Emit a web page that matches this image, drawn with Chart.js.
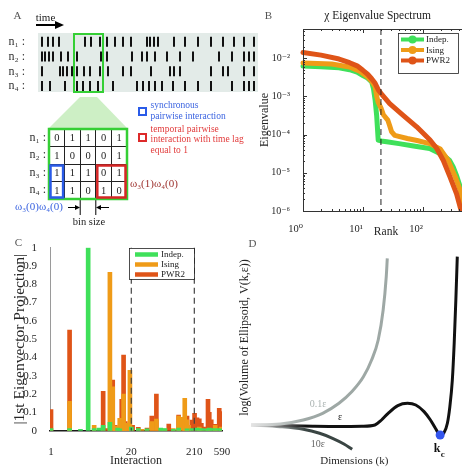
<!DOCTYPE html>
<html>
<head>
<meta charset="utf-8">
<script src="https://cdn.jsdelivr.net/npm/chart.js@4.4.1/dist/chart.umd.min.js"></script>
<style>
  html, body { margin: 0; padding: 0; background: #fff; overflow: hidden; }
  #page { position: relative; width: 462px; height: 468px; overflow: hidden;
          font-family: "Liberation Serif", "DejaVu Serif", serif; color: #222; }
  canvas, svg { position: absolute; left: 0; top: 0; }
  .c { position: absolute; transform: translate(-50%, -50%); line-height: 1; white-space: nowrap; }
  .l { position: absolute; transform: translate(0, -50%); line-height: 1; white-space: nowrap; }
  .letter { font-size: 11px; color: #555; }
</style>
</head>
<body>
<div id="page">
  <svg width="462" height="468">
    <line x1="36" y1="25" x2="57" y2="25" stroke="#000" stroke-width="2"/>
    <polygon points="55,21 64,25 55,29" fill="#000"/>
    <polygon points="80,97 97,97 127,128 49,128" fill="#cdefc5"/>
    <rect x="139" y="108" width="7" height="7" fill="none" stroke="#2a5be8" stroke-width="2"/>
    <rect x="139" y="134" width="7" height="7" fill="none" stroke="#dd2a2a" stroke-width="2"/>
    <line x1="80.2" y1="200" x2="80.2" y2="215" stroke="#000"/>
    <line x1="95.8" y1="200" x2="95.8" y2="215" stroke="#000"/>
    <line x1="68" y1="207.5" x2="76" y2="207.5" stroke="#000"/>
    <polygon points="75,205 80,207.5 75,210" fill="#000"/>
    <line x1="100" y1="207.5" x2="109" y2="207.5" stroke="#000"/>
    <polygon points="101,205 96,207.5 101,210" fill="#000"/>
  </svg>
  <canvas id="raster" width="462" height="468"></canvas>
  <canvas id="bins" width="462" height="468"></canvas>
  <canvas id="spectrum" width="480" height="468"></canvas>
  <canvas id="projection" width="462" height="468"></canvas>
  <canvas id="volume" width="462" height="468"></canvas>

  <div class="c letter" style="left:17.5px;top:14.5px">A</div>
  <div class="c letter" style="left:268.5px;top:14.5px">B</div>
  <div class="c letter" style="left:18.5px;top:242px">C</div>
  <div class="c letter" style="left:252.5px;top:242.5px">D</div>
  <div class="c" style="left:45.5px;top:17px;font-size:11px">time</div>
  <div class="c" style="left:377.7px;top:16px;font-size:11.5px">χ Eigenvalue Spectrum</div>
  <div class="l" style="left:150.5px;top:105.5px;font-size:9.5px;color:#3a63e0">synchronous</div>
  <div class="l" style="left:150.5px;top:116.7px;font-size:9.5px;color:#3a63e0">pairwise interaction</div>
  <div class="l" style="left:150.5px;top:129.5px;font-size:9.5px;color:#e23b3b">temporal pairwise</div>
  <div class="l" style="left:150.5px;top:140px;font-size:9.5px;color:#e23b3b">interaction with time lag</div>
  <div class="l" style="left:150.5px;top:150.5px;font-size:9.5px;color:#e23b3b">equal to 1</div>
  <div class="l" style="left:130px;top:183px;font-size:11px;color:#9c2f2b">ω₃(1)ω₄(0)</div>
  <div class="l" style="left:15px;top:206px;font-size:11px;color:#3a63e0">ω₃(0)ω₄(0)</div>
  <div class="c" style="left:89px;top:222px;font-size:10.5px">bin size</div>
</div>

<script>
const SERIF = '"Liberation Serif", "DejaVu Serif", serif';
const GREEN = '#3fe05a', ORANGE = '#ef9b18', RED = '#df5418';

Chart.defaults.font.family = SERIF;
Chart.defaults.font.size = 11;
Chart.defaults.color = '#262626';
Chart.defaults.animation = false;
Chart.defaults.responsive = false;
Chart.defaults.devicePixelRatio = 1;
Chart.defaults.events = [];
Chart.defaults.plugins.legend.display = false;
Chart.defaults.plugins.tooltip.enabled = false;

// ---- panel A data ----
const neuronLabels = ['n₁ :', 'n₂ :', 'n₃ :', 'n₄ :'];
const spikeTimes = [
  [4, 10, 15, 21, 47, 53, 62, 69, 77, 85, 93, 109, 112, 116, 120, 136, 147, 160, 173, 185, 196, 206, 216],
  [4, 7, 11, 15, 23, 30, 39, 63, 69, 94, 104, 109, 117, 129, 142, 155, 181, 194, 206, 211, 216],
  [4, 22, 25, 29, 34, 39, 46, 52, 62, 70, 85, 93, 113, 132, 136, 142, 173, 185, 190, 206, 216],
  [4, 12, 27, 39, 45, 52, 60, 75, 99, 105, 111, 117, 124, 135, 147, 160, 173, 194, 206, 211, 216]
];
const windowStart = 36, windowEnd = 65;
const binLabels = ['1', '2', '3', '4', '5'];
const binCounts = [
  [0, 1, 1, 0, 1],
  [1, 0, 0, 0, 1],
  [1, 1, 1, 0, 1],
  [1, 1, 0, 1, 0]
];

// ---- panel B data ----
const indepRank = [1, 2, 4, 6, 8, 10, 12, 14, 15, 16, 17, 18, 20, 25, 40, 70, 130, 220, 280, 320, 370, 420, 470, 530, 590];
const indepEig = [6.2e-3, 6.0e-3, 5.6e-3, 5.0e-3, 4.3e-3, 3.5e-3, 3.0e-3, 2.4e-3, 1.6e-3, 8e-4, 3e-4, 7.2e-5, 6.8e-5,
  6.5e-5, 5.8e-5, 5.0e-5, 4.3e-5, 2.9e-5, 2.1e-5, 1.45e-5, 8e-6, 4.3e-6, 2e-6, 1e-6, 6e-7];
const isingRank = [1, 3, 6, 9, 12, 14, 16, 17, 18, 20, 22, 26, 28, 30, 34, 55, 80, 130, 195, 265, 345, 420, 480, 590];
const isingEig = [7.5e-3, 7.0e-3, 5.9e-3, 4.5e-3, 3.2e-3, 2.5e-3, 1.8e-3, 1.0e-3, 7e-4, 5e-4, 3.3e-4, 2.4e-4, 1.7e-4,
  1.2e-4, 9.5e-5, 7.9e-5, 7e-5, 5.8e-5, 4.2e-5, 2.1e-5, 8e-6, 3.5e-6, 1.3e-6, 5e-7];
const pwrRank = [1, 2, 4, 6, 8, 10, 12, 14, 16, 18, 20, 28, 47, 79, 132, 170, 220, 284, 366, 418, 450, 590];
const pwrEig = [1.4e-2, 1.2e-2, 9.5e-3, 7.6e-3, 6.3e-3, 4.8e-3, 3.8e-3, 2.9e-3, 2.2e-3, 1.5e-3, 1.2e-3, 6.5e-4, 3.2e-4,
  1.6e-4, 7.2e-5, 4.4e-5, 2.1e-5, 7.8e-6, 2.8e-6, 1.3e-6, 9e-7, 2e-7];
const rankMajorTicks = [1, 10, 100];
const eigMajorTicks = [1e-6, 1e-5, 1e-4, 1e-3, 1e-2];
const dashedRanks = [20];

// ---- panel C data ----
const interactionIds = [1, 2, 3, 4, 5, 6, 7, 8, 9, 10, 11, 12, 13, 14, 15, 16, 17, 19, 20, 21, 26, 30, 36, 43, 51, 60, 70,
  81, 96, 117, 133, 147, 160, 170, 193, 212, 232, 253, 273, 297, 320, 350, 367, 395, 420, 458, 500, 532, 573];
const indepProj = [.012, .012, .008, 1.0, .012, .015, .03, 0, .046, 0, 0, .015, .01, 0, 0, 0, 0, 0, .02, 0, .012, 0, .01,
  0, 0, .015, .012, 0, .008, .015, 0, 0, .01, 0, .012, 0, .015, 0, .012, 0, .01, 0, .015, 0, .012, 0, .012, 0, .01];
const isingProj = [0, .16, 0, 0, .03, 0, 0, 0, .865, .24, .025, .02, .067, .06, .2, .035, .04, .33, 0, 0, 0, .008, 0,
  .05, .064, .01, .01, 0, .012, .08, .073, .177, .06, .03, 0, 0, 0, .02, 0, 0, 0, .01, 0, 0, 0, .03, 0, 0, .02];
const pwrProj = [.115, .55, 0, 0, 0, 0, .215, .012, 0, .277, .03, 0, 0, .172, .413, .05, .03, .02, .01, .03, .018, 0, .015,
  .08, .2, 0, 0, .036, 0, .085, 0, .05, .08, 0, .058, .095, .07, .065, .04, .02, 0, .172, .1, .06, 0, .035, .03, .122, .105];
const interactionTicks = [1, 20, 210, 590];
const projectionTicks = [0, 0.1, 0.2, 0.3, 0.4, 0.5, 0.6, 0.7, 0.8, 0.9, 1];
const sectionBounds = [20, 210];

// ---- panel D data ----
const kSmallEps = [0, 14.2, 25.3, 34.7, 42.6, 48.9, 54.5, 58.4, 61.6, 64, 65.5, 66];
const vSmallEps = [0, 0.1, 0.5, 1.17, 2.17, 3.34, 4.84, 6.5, 8.5, 11.5, 14.84, 16.67];
const kEps = [0, 14.2, 30, 42.7, 53.7, 60, 63.2, 66.4, 71.1, 75.8, 79.8, 83.8, 86.9, 89.3, 91.6, 93.5, 95.1, 96.3, 97.5, 98.4, 99.2, 99.9];
const vEps = [0, -0.06, -0.13, -0.16, -0.13, 0, 0.5, 1.17, 1.94, 2.17, 2.0, 1.34, 0.5, -0.33, -1.0, -0.76, 0.17, 1.84, 4.5, 8.17, 12.5, 16.84];
const kLargeEps = [0, 14.2, 25.3, 33.2, 39.5, 45, 49];
const vLargeEps = [0, -0.17, -0.43, -0.83, -1.33, -1.9, -2.43];
const kCritical = [91.6];
const vCritical = [-1.0];

const pts = (xs, ys) => xs.map((x, i) => ({x, y: ys[i]}));
const sup = {'-': '⁻', '0': '⁰', '1': '¹', '2': '²', '3': '³', '4': '⁴', '5': '⁵', '6': '⁶'};
const pow10Label = v => '10' + String(Math.round(Math.log10(v))).split('').map(ch => sup[ch]).join('');
function logTicks(majors, lo, hi) {
  const out = [];
  majors.forEach(m => {
    for (let k = 1; k <= 9; k++) {
      const v = m * k;
      if (v >= lo * 0.999 && v <= hi * 1.001) out.push({value: v, major: k === 1});
    }
  });
  return out;
}

// ---------------- A: raster ----------------
const rasterDecor = {
  id: 'rasterDecor',
  beforeDatasetsDraw(chart) {
    const {ctx, chartArea: a} = chart;
    ctx.save();
    ctx.fillStyle = '#e3ebe8';
    ctx.fillRect(a.left, a.top, a.right - a.left, a.bottom - a.top);
    ctx.restore();
  },
  afterDatasetsDraw(chart) {
    const {ctx, chartArea: a, scales: {x}} = chart;
    const x0 = x.getPixelForValue(windowStart), x1 = x.getPixelForValue(windowEnd);
    ctx.save();
    ctx.strokeStyle = '#35cf35';
    ctx.lineWidth = 2;
    ctx.strokeRect(x0, a.top + 1, x1 - x0, a.bottom - a.top - 1);
    ctx.restore();
  }
};

new Chart('raster', {
  type: 'scatter',
  data: {
    datasets: spikeTimes.map((times, i) => ({
      data: times.map(t => ({x: t, y: i + 1})),
      pointStyle: 'line',
      pointRotation: 90,
      pointRadius: 5,
      pointBorderWidth: 2,
      pointBorderColor: '#111',
      pointBackgroundColor: '#111'
    }))
  },
  options: {
    layout: {padding: {left: 6, top: 33, right: 204, bottom: 376}},
    scales: {
      x: {display: false, min: 0, max: 220},
      y: {
        reverse: true, min: 0.4, max: 4.4,
        afterBuildTicks: s => { s.ticks = neuronLabels.map((_, i) => ({value: i + 1})); },
        afterFit: s => { s.width = 32; },
        grid: {display: false}, border: {display: false},
        ticks: {padding: 5, color: '#333', font: {size: 12}, callback: v => neuronLabels[v - 1]}
      }
    }
  },
  plugins: [rasterDecor]
});

// ---------------- A: bins ----------------
const binDecor = {
  id: 'binDecor',
  afterDatasetsDraw(chart) {
    const {ctx, chartArea: a, scales: {x, y}} = chart;
    const meta = chart.getDatasetMeta(0);
    const ds = chart.data.datasets[0];
    ctx.save();
    ctx.fillStyle = '#222';
    ctx.font = '10.5px ' + SERIF;
    ctx.textAlign = 'center';
    ctx.textBaseline = 'middle';
    meta.data.forEach((pt, i) => ctx.fillText(String(ds.data[i].v), pt.x, pt.y + 0.5));
    ctx.strokeStyle = '#35cf35';
    ctx.lineWidth = 2.5;
    ctx.strokeRect(a.left, a.top, a.right - a.left, a.bottom - a.top);
    const bw = (a.right - a.left) / binLabels.length, bh = (a.bottom - a.top) / neuronLabels.length;
    const box = (c0, c1, r0, r1, color, inset) => {
      const left = x.getPixelForValue(c0) - bw / 2, right = x.getPixelForValue(c1) + bw / 2;
      const top = y.getPixelForValue(r0) - bh / 2, bottom = y.getPixelForValue(r1) + bh / 2;
      ctx.strokeStyle = color;
      ctx.lineWidth = 2.5;
      ctx.strokeRect(left + inset, top + inset, right - left - 2 * inset, bottom - top - 2 * inset);
    };
    box(0, 0, 2, 3, '#2a5be8', 1.5);
    box(3, 4, 2, 3, '#d62626', 1.5);
    ctx.restore();
  }
};

new Chart('bins', {
  type: 'scatter',
  data: {
    datasets: [{
      data: binCounts.flatMap((row, r) => row.map((v, c) => ({x: binLabels[c], y: neuronLabels[r], v}))),
      pointRadius: 0
    }]
  },
  options: {
    layout: {padding: {left: 17, top: 129, right: 335, bottom: 269}},
    scales: {
      x: {
        type: 'category', labels: binLabels, offset: true,
        grid: {offset: true, color: '#222', drawTicks: false},
        ticks: {display: false}, border: {display: false},
        afterFit: s => { s.height = 0; }
      },
      y: {
        type: 'category', labels: neuronLabels, offset: true,
        grid: {offset: true, color: '#222', drawTicks: false},
        border: {display: false},
        ticks: {padding: 3, color: '#333', font: {size: 12}},
        afterFit: s => { s.width = 32; }
      }
    }
  },
  plugins: [binDecor]
});

// ---------------- B: spectrum ----------------
const spectrumDecor = {
  id: 'spectrumDecor',
  afterDraw(chart) {
    const {ctx, chartArea: a, scales: {x, y}} = chart;
    ctx.save();
    ctx.strokeStyle = '#333';
    ctx.lineWidth = 1;
    ctx.beginPath();
    x.ticks.forEach(t => {
      const px = Math.round(x.getPixelForValue(t.value)) + 0.5, len = t.major ? 4 : 2;
      ctx.moveTo(px, a.bottom); ctx.lineTo(px, a.bottom - len);
      ctx.moveTo(px, a.top); ctx.lineTo(px, a.top + len);
    });
    y.ticks.forEach(t => {
      const py = Math.round(y.getPixelForValue(t.value)) + 0.5, len = t.major ? 4 : 2;
      ctx.moveTo(a.left, py); ctx.lineTo(a.left + len, py);
    });
    ctx.stroke();
    ctx.strokeRect(Math.round(a.left) + 0.5, Math.round(a.top) + 0.5, a.right - a.left, a.bottom - a.top);
    ctx.setLineDash([6, 4]);
    ctx.strokeStyle = '#222';
    dashedRanks.forEach(r => {
      const px = x.getPixelForValue(r);
      ctx.beginPath(); ctx.moveTo(px, a.top); ctx.lineTo(px, a.bottom); ctx.stroke();
    });
    ctx.setLineDash([]);
    // legend box
    const bx = 398, by = 33, bw = 60, bh = 40;
    ctx.fillStyle = '#fff';
    ctx.fillRect(bx, by, bw, bh);
    ctx.strokeStyle = '#222';
    ctx.lineWidth = 0.8;
    ctx.strokeRect(bx + 0.5, by + 0.5, bw, bh);
    ctx.font = '9px ' + SERIF;
    ctx.textBaseline = 'middle';
    chart.data.datasets.forEach((ds, i) => {
      const ly = by + 6.5 + i * 10.5;
      ctx.strokeStyle = ds.borderColor;
      ctx.lineWidth = 4;
      ctx.beginPath(); ctx.moveTo(bx + 3, ly); ctx.lineTo(bx + 26, ly); ctx.stroke();
      ctx.fillStyle = ds.borderColor;
      ctx.beginPath(); ctx.arc(bx + 14.5, ly, 4, 0, Math.PI * 2); ctx.fill();
      ctx.fillStyle = '#222';
      ctx.fillText(ds.label, bx + 28, ly + 0.5);
    });
    ctx.restore();
  }
};

const spectrumLine = {borderWidth: 5, pointRadius: 0, tension: 0, borderJoinStyle: 'round', borderCapStyle: 'round',
  clip: {left: 3, top: 3, right: 3, bottom: 0}};
new Chart('spectrum', {
  type: 'line',
  data: {
    datasets: [
      {label: 'Indep.', data: pts(indepRank, indepEig), borderColor: GREEN, order: 3, ...spectrumLine},
      {label: 'Ising', data: pts(isingRank, isingEig), borderColor: ORANGE, order: 2, ...spectrumLine},
      {label: 'PWR2', data: pts(pwrRank, pwrEig), borderColor: RED, order: 1, ...spectrumLine}
    ]
  },
  options: {
    layout: {padding: {left: 254, top: 29, right: 11, bottom: 225}},
    scales: {
      x: {
        type: 'logarithmic', min: 1, max: 590,
        afterBuildTicks: s => { s.ticks = logTicks(rankMajorTicks, 1, 590); },
        afterFit: s => { s.height = 32; },
        grid: {display: false}, border: {display: false},
        ticks: {align: 'end', padding: 4, autoSkip: false, maxRotation: 0, font: {size: 10.5},
          callback: (v, i, ticks) => ticks[i].major ? pow10Label(v) : ''},
        title: {display: true, text: 'Rank', font: {size: 11.5}, padding: {top: 0, bottom: 4}}
      },
      y: {
        type: 'logarithmic', min: 1e-6, max: 0.058,
        afterBuildTicks: s => { s.ticks = logTicks(eigMajorTicks, 1e-6, 0.058); },
        afterFit: s => { s.width = 49; },
        grid: {display: false}, border: {display: false},
        ticks: {padding: 5, autoSkip: false, font: {size: 10},
          callback: (v, i, ticks) => ticks[i].major ? pow10Label(v) : ''},
        title: {display: true, text: 'Eigenvalue', font: {size: 12}, padding: {top: 4, bottom: 4}}
      }
    }
  },
  plugins: [spectrumDecor]
});

// ---------------- C: projection ----------------
const projectionDecor = {
  id: 'projectionDecor',
  afterDraw(chart) {
    const {ctx, chartArea: a, scales: {x}} = chart;
    ctx.save();
    ctx.strokeStyle = '#444';
    ctx.lineWidth = 1.2;
    ctx.setLineDash([6, 4]);
    sectionBounds.forEach(b => {
      const px = x.getPixelForValue(b);
      ctx.beginPath(); ctx.moveTo(px, a.top); ctx.lineTo(px, a.bottom); ctx.stroke();
    });
    ctx.setLineDash([]);
    const bx = 129, by = 248, bw = 65, bh = 31;
    ctx.fillStyle = '#fff';
    ctx.fillRect(bx, by, bw, bh);
    ctx.strokeStyle = '#222';
    ctx.lineWidth = 0.8;
    ctx.strokeRect(bx + 0.5, by + 0.5, bw, bh);
    ctx.font = '9px ' + SERIF;
    ctx.textBaseline = 'middle';
    chart.data.datasets.forEach((ds, i) => {
      const ly = by + 6.5 + i * 10;
      ctx.strokeStyle = ds.backgroundColor;
      ctx.lineWidth = 4.5;
      ctx.beginPath(); ctx.moveTo(bx + 6, ly); ctx.lineTo(bx + 29, ly); ctx.stroke();
      ctx.fillStyle = '#222';
      ctx.fillText(ds.label, bx + 32, ly + 0.5);
    });
    ctx.restore();
  }
};

const projBars = vals => interactionIds.map((x, i) => ({x, y: vals[i]})).filter(p => p.y > 0);
new Chart('projection', {
  type: 'bar',
  data: {
    datasets: [
      {label: 'Indep.', data: projBars(indepProj), backgroundColor: GREEN, barThickness: 4},
      {label: 'Ising', data: projBars(isingProj), backgroundColor: ORANGE, barThickness: 4},
      {label: 'PWR2', data: projBars(pwrProj), backgroundColor: RED, barThickness: 4}
    ]
  },
  options: {
    grouped: false,
    layout: {padding: {left: 7, top: 247.7, right: 240, bottom: 0}},
    scales: {
      x: {
        type: 'logarithmic', min: 0.963, max: 590, offset: false,
        afterBuildTicks: s => { s.ticks = interactionTicks.map(v => ({value: v})); },
        afterFit: s => { s.height = 37.3; },
        grid: {display: false}, border: {color: '#1a1a1a', width: 1.5},
        ticks: {padding: 7, autoSkip: false, maxRotation: 0, callback: v => String(v)},
        title: {display: true, text: 'Interaction', font: {size: 12}, padding: {top: 0, bottom: 0}}
      },
      y: {
        min: 0, max: 1,
        afterBuildTicks: s => { s.ticks = projectionTicks.map(v => ({value: v})); },
        afterFit: s => { s.width = 43; },
        grid: {display: false}, border: {color: '#9a9a9a', width: 1},
        ticks: {padding: 5, callback: v => (v === 0 || v === 1) ? String(v) : v.toFixed(1)},
        title: {display: true, text: '|1st Eigenvector Projection|', font: {size: 15.5}, padding: {top: 4, bottom: 4}}
      }
    }
  },
  plugins: [projectionDecor]
});

// ---------------- D: volume ----------------
function fade(color) {
  return ctx => {
    const {chart} = ctx;
    const a = chart.chartArea;
    if (!a) return color;
    const g = chart.ctx.createLinearGradient(a.left, 0, a.left + 55, 0);
    g.addColorStop(0, '#e4e4e4');
    g.addColorStop(1, color);
    return g;
  };
}
const volumeNotes = {
  id: 'volumeNotes',
  afterDatasetsDraw(chart) {
    const {ctx, scales: {x, y}} = chart;
    ctx.save();
    ctx.textAlign = 'center';
    ctx.textBaseline = 'middle';
    const put = (txt, kx, vy, color, font) => {
      ctx.fillStyle = color; ctx.font = font;
      ctx.fillText(txt, x.getPixelForValue(kx), y.getPixelForValue(vy));
    };
    put('0.1ε', 32.5, 2.05, '#aab3b1', '10px ' + SERIF);
    put('ε', 43.2, 0.75, '#222', '10px ' + SERIF);
    put('10ε', 32.4, -1.95, '#666', '10px ' + SERIF);
    const dot = chart.getDatasetMeta(3).data[0];
    ctx.fillStyle = '#111';
    ctx.font = 'bold 12px ' + SERIF;
    ctx.fillText('k', dot.x - 3, dot.y + 13.5);
    ctx.font = 'bold 9px ' + SERIF;
    ctx.fillText('c', dot.x + 2.5, dot.y + 19.5);
    ctx.restore();
  }
};

const curve = {showLine: true, pointRadius: 0, borderWidth: 3, cubicInterpolationMode: 'monotone', clip: 4};
new Chart('volume', {
  type: 'scatter',
  data: {
    datasets: [
      {data: pts(kSmallEps, vSmallEps), borderColor: fade('#9ea8a5'), ...curve},
      {data: pts(kEps, vEps), borderColor: fade('#111111'), ...curve},
      {data: pts(kLargeEps, vLargeEps), borderColor: fade('#3a4543'), ...curve},
      {data: pts(kCritical, vCritical), pointRadius: 4.5, pointBackgroundColor: '#3355ee', pointBorderWidth: 0, order: -1}
    ]
  },
  options: {
    layout: {padding: {left: 233.8, top: 220, right: 0, bottom: 0}},
    scales: {
      x: {
        min: 0, max: 100,
        ticks: {display: false}, grid: {display: false}, border: {display: false},
        afterFit: s => { s.height = 13; },
        title: {display: true, text: 'Dimensions (k)', font: {size: 11}, padding: {top: 0, bottom: 0}}
      },
      y: {
        min: -3, max: 20.5,
        ticks: {display: false}, grid: {display: false}, border: {display: false},
        afterFit: s => { s.width = 17.2; },
        title: {display: true, text: 'log(Volume of Ellipsoid, V(k,ε))', font: {size: 12}, padding: {top: 4, bottom: 4}}
      }
    }
  },
  plugins: [volumeNotes]
});
</script>
</body>
</html>
